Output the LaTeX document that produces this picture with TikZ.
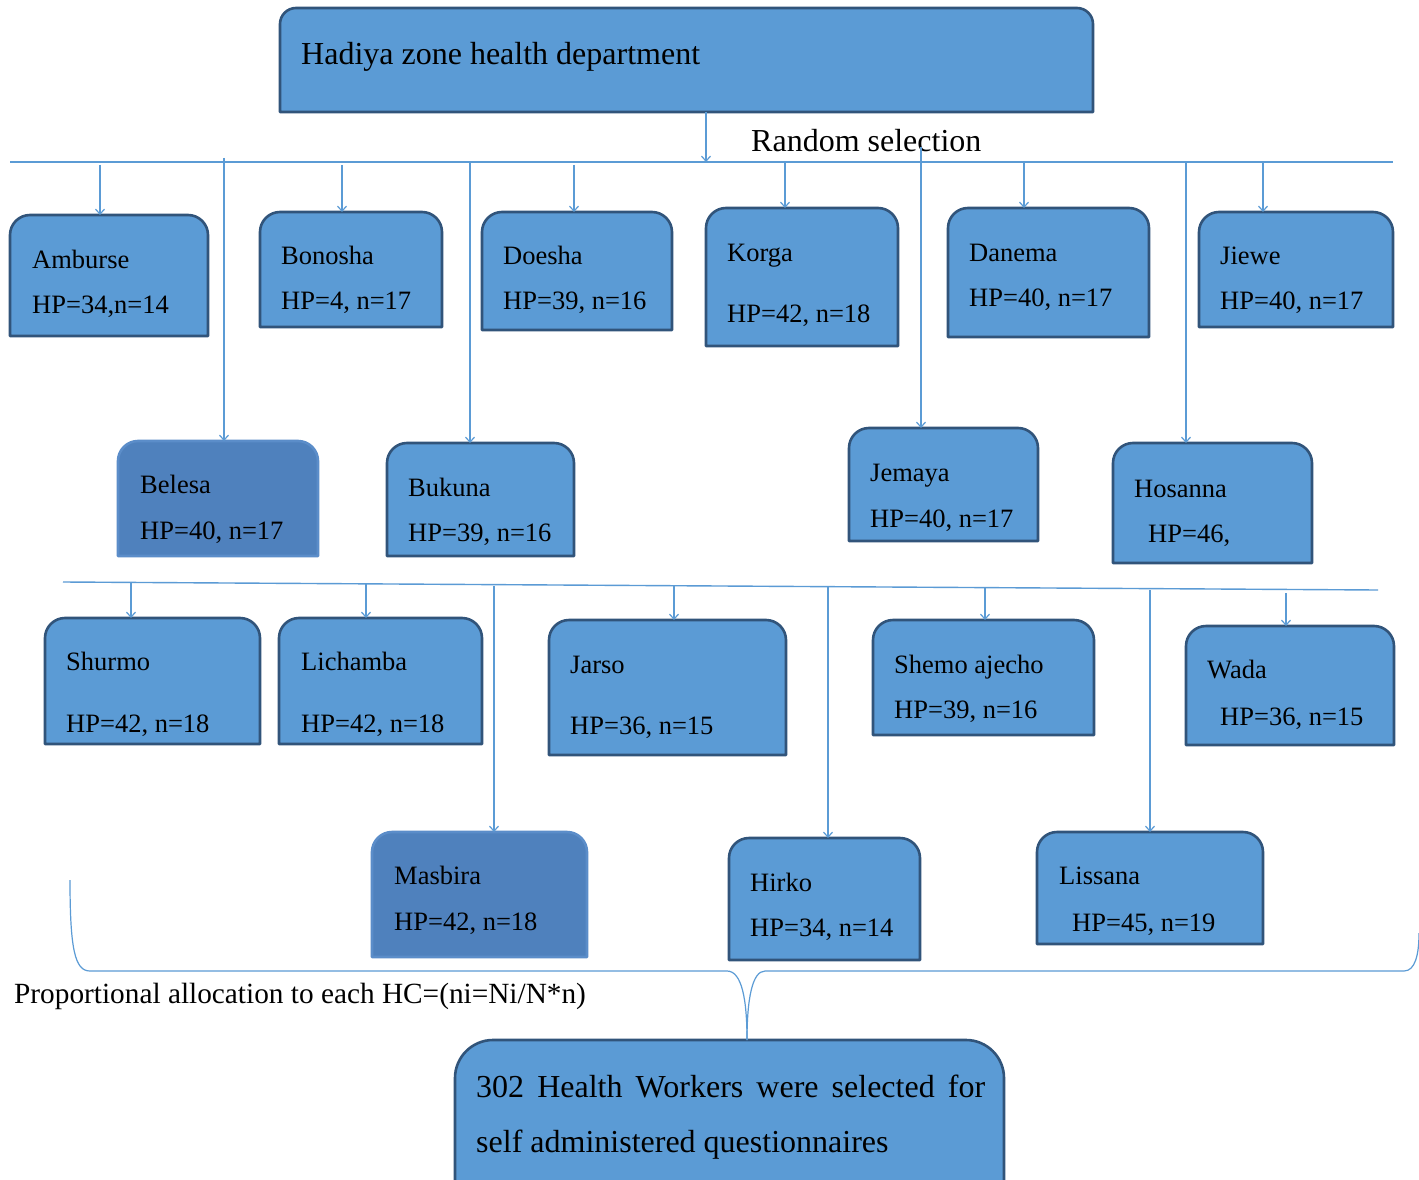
\documentclass[tikz,border=0pt]{standalone}
\usepackage{fontspec}
\setmainfont{Liberation Serif}
\usetikzlibrary{calc,fit,arrows.meta}
\definecolor{boxfill}{HTML}{5B9BD5}
\definecolor{boxedge}{HTML}{31547A}
\definecolor{darkfill}{HTML}{4F81BD}
\definecolor{darkedge}{HTML}{5B8DC9}
\definecolor{linec}{HTML}{5B9BD5}
% name, x1, y1, x2, y2, style, radius
\newcommand\hcbox[7]{%
 \node[fit={(#2,#3)(#4,#5)},inner sep=0pt,outer sep=0pt] (#1) {};
 \path[#6] (#1.south west) -- ($(#1.north west)+(0,#7)$)
   .. controls ($(#1.north west)+(0,{0.45*#7})$) and ($(#1.north west)+({0.45*#7},0)$) .. ($(#1.north west)+(#7,0)$)
   -- ($(#1.north east)+(-#7,0)$)
   .. controls ($(#1.north east)+({-0.45*#7},0)$) and ($(#1.north east)+(0,{0.45*#7})$) .. ($(#1.north east)+(0,#7)$)
   -- (#1.south east) -- cycle;}
\tikzset{
  hcnormal/.style={fill=boxfill,draw=boxedge,line width=2.6pt,line join=round},
  hcdark/.style={fill=darkfill,draw=darkedge,line width=2.6pt,line join=round},
  lbl/.style={anchor=base west,inner sep=0pt,font=\fontsize{26.5}{30}\selectfont},
  biglbl/.style={anchor=base west,inner sep=0pt,font=\fontsize{32}{38}\selectfont},
  conn/.style={draw=linec,line width=1.4pt},
  arr/.style={conn,-{Straight Barb[length=5pt,width=9pt,line width=1.2pt]}}
}
\begin{document}
\begin{tikzpicture}[x=1pt,y=-1pt]
\useasboundingbox[fill=white] (0,0) rectangle (1419,1180);

% top box
\hcbox{top}{280}{8}{1093}{112}{hcnormal}{16}
\node[biglbl] (toptxt) at (301,65) {Hadiya zone health department};

% bus 1
\coordinate (bus1w) at (10,162);
\coordinate (bus1e) at (1393,162);
\draw[conn] (bus1w) -- (bus1e);
\coordinate (tx) at (706,0);
\draw[arr] (top.south -| tx) -- (tx |- bus1w);
\node[biglbl] (rs) at (751,152) {Random selection};

% row 1
\hcbox{amb}{10}{215}{208}{336}{hcnormal}{20}
\node[lbl] (amb1) at (32,268) {Amburse};
\node[lbl] (amb2) at (32,313) {HP=34,n=14};
\hcbox{bon}{260}{212}{442}{327}{hcnormal}{20}
\node[lbl] (bon1) at (281,264) {Bonosha};
\node[lbl] (bon2) at (281,309) {HP=4, n=17};
\hcbox{doe}{482}{212}{672}{330}{hcnormal}{20}
\node[lbl] (doe1) at (503,264) {Doesha};
\node[lbl] (doe2) at (503,309) {HP=39, n=16};
\hcbox{kor}{706}{208}{898}{346}{hcnormal}{20}
\node[lbl] (kor1) at (727,261) {Korga};
\node[lbl] (kor2) at (727,322) {HP=42, n=18};
\hcbox{dan}{948}{208}{1149}{337}{hcnormal}{20}
\node[lbl] (dan1) at (969,261) {Danema};
\node[lbl] (dan2) at (969,306) {HP=40, n=17};
\hcbox{jie}{1199}{212}{1393}{327}{hcnormal}{20}
\node[lbl] (jie1) at (1220,264) {Jiewe};
\node[lbl] (jie2) at (1220,309) {HP=40, n=17};

% row 2
\hcbox{bel}{118}{441}{318}{556}{hcdark}{20}
\node[lbl] (bel1) at (140,493) {Belesa};
\node[lbl] (bel2) at (140,539) {HP=40, n=17};
\hcbox{buk}{387}{443}{574}{556}{hcnormal}{20}
\node[lbl] (buk1) at (408,496) {Bukuna};
\node[lbl] (buk2) at (408,541) {HP=39, n=16};
\hcbox{jem}{849}{428}{1038}{541}{hcnormal}{20}
\node[lbl] (jem1) at (870,481) {Jemaya};
\node[lbl] (jem2) at (870,527) {HP=40, n=17};
\hcbox{hos}{1113}{443}{1312}{563}{hcnormal}{20}
\node[lbl] (hos1) at (1134,497) {Hosanna};
\node[lbl] (hos2) at (1148,542) {HP=46,};

% arrows from bus 1
\coordinate (a1) at (100,165);
\coordinate (a2) at (342,165);
\coordinate (a3) at (574,165);
\coordinate (a4) at (785,163);
\coordinate (a5) at (1024,163);
\coordinate (a6) at (1263,163);
\draw[arr] (a1) -- (a1 |- amb.north);
\draw[arr] (a2) -- (a2 |- bon.north);
\draw[arr] (a3) -- (a3 |- doe.north);
\draw[arr] (a4) -- (a4 |- kor.north);
\draw[arr] (a5) -- (a5 |- dan.north);
\draw[arr] (a6) -- (a6 |- jie.north);
\coordinate (l1) at (224,158);
\coordinate (l2) at (470,162);
\coordinate (l3) at (921,147);
\coordinate (l4) at (1186,162);
\draw[arr] (l1) -- (l1 |- bel.north);
\draw[arr] (l2) -- (l2 |- buk.north);
\draw[arr] (l3) -- (l3 |- jem.north);
\draw[arr] (l4) -- (l4 |- hos.north);

% bus 2
\coordinate (bus2w) at (63,582);
\coordinate (bus2e) at (1378,590);
\draw[conn] (bus2w) -- (bus2e);

% row 3
\hcbox{shu}{45}{618}{260}{744}{hcnormal}{20}
\node[lbl] (shu1) at (66,670) {Shurmo};
\node[lbl] (shu2) at (66,732) {HP=42, n=18};
\hcbox{lic}{279}{618}{482}{744}{hcnormal}{20}
\node[lbl] (lic1) at (301,670) {Lichamba};
\node[lbl] (lic2) at (301,732) {HP=42, n=18};
\hcbox{jar}{549}{620}{786}{755}{hcnormal}{20}
\node[lbl] (jar1) at (570,673) {Jarso};
\node[lbl] (jar2) at (570,734) {HP=36, n=15};
\hcbox{she}{873}{620}{1094}{735}{hcnormal}{20}
\node[lbl] (she1) at (894,673) {Shemo ajecho};
\node[lbl] (she2) at (894,718) {HP=39, n=16};
\hcbox{wad}{1186}{626}{1394}{745}{hcnormal}{20}
\node[lbl] (wad1) at (1207,678) {Wada};
\node[lbl] (wad2) at (1220,725) {HP=36, n=15};

% row 4
\hcbox{mas}{372}{832}{587}{957}{hcdark}{20}
\node[lbl] (mas1) at (394,884) {Masbira};
\node[lbl] (mas2) at (394,930) {HP=42, n=18};
\hcbox{hir}{729}{838}{920}{960}{hcnormal}{20}
\node[lbl] (hir1) at (750,891) {Hirko};
\node[lbl] (hir2) at (750,936) {HP=34, n=14};
\hcbox{lis}{1037}{832}{1263}{944}{hcnormal}{20}
\node[lbl] (lis1) at (1059,884) {Lissana};
\node[lbl] (lis2) at (1072,931) {HP=45, n=19};

% arrows from bus 2
\coordinate (b1) at (131,583);
\coordinate (b2) at (366,583);
\coordinate (b3) at (674,586);
\coordinate (b4) at (985,588);
\coordinate (b5) at (1286,593);
\draw[arr] (b1) -- (b1 |- shu.north);
\draw[arr] (b2) -- (b2 |- lic.north);
\draw[arr] (b3) -- (b3 |- jar.north);
\draw[arr] (b4) -- (b4 |- she.north);
\draw[arr] (b5) -- (b5 |- wad.north);
\coordinate (m1) at (494,586);
\coordinate (m2) at (828,587);
\coordinate (m3) at (1150,590);
\draw[arr] (m1) -- (m1 |- mas.north);
\draw[arr] (m2) -- (m2 |- hir.north);
\draw[arr] (m3) -- (m3 |- lis.north);

% bottom box
\hcbox{res}{455}{1040}{1004}{1210}{hcnormal}{38}
\node[biglbl] (restxt1) at (476,1097)
  {\makebox[509pt][s]{302 Health Workers were selected for}};
\node[biglbl] (restxt2) at (476,1152) {self administered questionnaires};

% brace
\coordinate (brL) at (70,880);
\coordinate (brTip) at (747,1040);
\coordinate (brR) at (1419,933);
\draw[conn,line width=1.2pt] (brL) .. controls (70,950) and (75,971) .. (90,971) -- (727,971)
   .. controls (742,971) and (747,1000) .. (brTip);
\draw[conn,line width=1.2pt] (brTip) .. controls (747,1000) and (752,971) .. (765,971) -- (1404,971)
   .. controls (1415,971) and (1419,955) .. (brR);

\node[anchor=base west,inner sep=0pt,font=\fontsize{29.3}{34}\selectfont] (prop) at (14,1003)
  {Proportional allocation to each HC=(ni=Ni/N*n)};
\end{tikzpicture}
\end{document}
